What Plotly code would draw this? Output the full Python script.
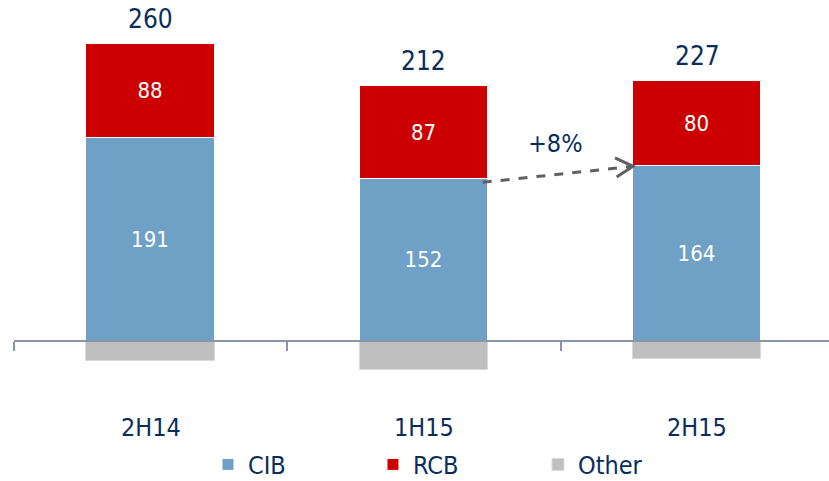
import plotly.graph_objects as go

categories = ["2H14", "1H15", "2H15"]
cib = [191, 152, 164]
rcb = [88, 87, 80]
other = [-19, -27, -17]
totals = [260, 212, 227]
growth_label = "+8%"

FONT = "DejaVu Sans Condensed, Liberation Sans Narrow, sans-serif"
NAVY = "#0B2D5B"
C_CIB = "#6FA0C5"
C_RCB = "#CC0000"
C_OTH = "#BFBFBF"
BW = 0.47

fig = go.Figure()
fig.add_trace(go.Bar(name="CIB", x=categories, y=cib, marker=dict(color=C_CIB, line=dict(color="white", width=1)),
                     width=BW, text=[str(v) for v in cib], textposition="inside", insidetextanchor="middle",
                     textfont=dict(color="white", size=22, family=FONT)))
fig.add_trace(go.Bar(name="RCB", x=categories, y=rcb, marker=dict(color=C_RCB, line=dict(color="white", width=1)),
                     width=BW, text=[str(v) for v in rcb], textposition="inside", insidetextanchor="middle",
                     textfont=dict(color="white", size=22, family=FONT)))
fig.add_trace(go.Bar(name="Other", x=categories, y=other, marker=dict(color=C_OTH, line=dict(color="#D9D9D9", width=1)),
                     width=BW, hoverinfo="y"))

# totals above stacks
for i, c in enumerate(categories):
    fig.add_annotation(x=c, y=cib[i] + rcb[i], text=str(totals[i]), showarrow=False, yanchor="middle",
                       yshift=25, font=dict(size=26, color=NAVY, family=FONT))

# category labels
for c in categories:
    fig.add_annotation(x=c, y=0.111, yref="paper", text=c, showarrow=False, yanchor="middle",
                       font=dict(size=25, color=NAVY, family=FONT))

# growth arrow (dashed) from 1H15 CIB top to 2H15 CIB top
x0 = 1 + BW / 2 - 0.02
x1 = 2 - BW / 2
fig.add_shape(type="line", x0=x0, y0=cib[1] - 3, x1=x1, y1=cib[2], xref="x", yref="y",
              line=dict(color="#606060", width=3, dash="dash"))
fig.add_shape(type="path", xref="x", yref="y",
              path=f"M {x1-0.066},{cib[2]+8} L {x1},{cib[2]} L {x1-0.06},{cib[2]-10}",
              line=dict(color="#606060", width=3))
fig.add_annotation(x=(x0 + x1) / 2 - 0.01, y=(cib[1] + cib[2]) / 2, text=growth_label, showarrow=False,
                   yanchor="middle", yshift=29, font=dict(size=25, color=NAVY, family=FONT))

fig.update_layout(
    width=829, height=481, barmode="relative", bargap=0,
    margin=dict(l=14, r=0, t=0, b=0, autoexpand=False),
    paper_bgcolor="white", plot_bgcolor="white",
    showlegend=True,
    legend=dict(orientation="h", x=0.238, xanchor="left", y=0.034, yanchor="middle",
                entrywidth=120, entrywidthmode="pixels",
                font=dict(size=25, color=NAVY, family=FONT), traceorder="normal"),
    xaxis=dict(type="category", range=[-0.5, 2.482], anchor="free", position=0.291,
               showline=True, linecolor="#8A95A8", linewidth=2,
               tickmode="array", tickvals=[-0.5, 0.5, 1.5], ticktext=["", "", ""],
               ticks="outside", ticklen=9, tickcolor="#8A95A8", tickwidth=2,
               showgrid=False, zeroline=False, layer="above traces"),
    yaxis=dict(range=[-131.5, 320.2], visible=False, showgrid=False, zeroline=False),
)

fig.write_html("out.html", config={"displayModeBar": False},
               post_script="document.body.style.margin='0';")
